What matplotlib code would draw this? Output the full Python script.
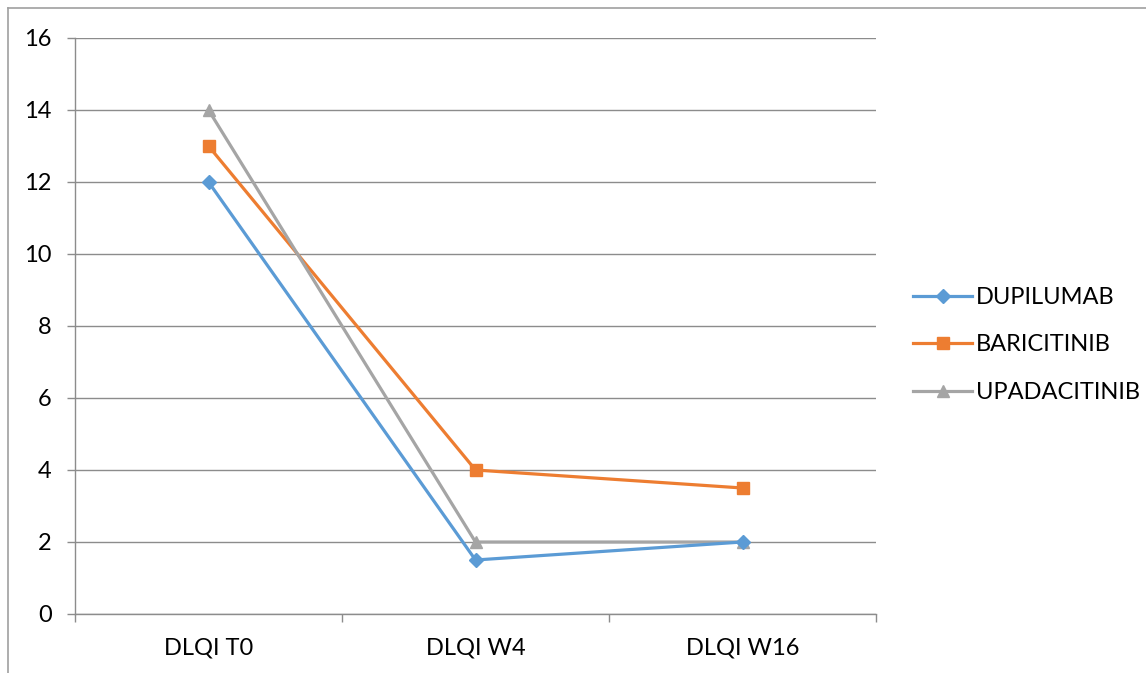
import matplotlib
matplotlib.use("Agg")
import matplotlib.pyplot as plt
from matplotlib.lines import Line2D

categories = ["DLQI T0", "DLQI W4", "DLQI W16"]
dupilumab = [12, 1.5, 2]
baricitinib = [13, 4, 3.5]
upadacitinib = [14, 2, 2]
y_ticks = [0, 2, 4, 6, 8, 10, 12, 14, 16]

plt.rcParams["font.family"] = ["Lato", "DejaVu Sans"]

W, H = 1146, 673
fig = plt.figure(figsize=(W / 100, H / 100), dpi=100)
ax = fig.add_axes([75 / W, 1 - 614 / H, (876 - 75) / W, (614 - 38) / H])

grid_c = "#8c8c8c"
x = list(range(len(categories)))

ax.plot(x, dupilumab, color="#5B9BD5", lw=2.3, marker="D", ms=7,
        label="DUPILUMAB", zorder=4)
ax.plot(x, baricitinib, color="#ED7D31", lw=2.3, marker="s", ms=9,
        label="BARICITINIB", zorder=3)
ax.plot(x, upadacitinib, color="#A5A5A5", lw=2.3, marker="^", ms=9,
        label="UPADACITINIB", zorder=3)

ax.set_xlim(-0.5, len(categories) - 0.5)
ax.set_ylim(0, 16)
ax.set_yticks(y_ticks)
ax.set_yticklabels([str(v) for v in y_ticks])
ax.set_xticks(x)
ax.set_xticklabels(categories)
ax.set_xticks([i - 0.5 for i in range(len(categories) + 1)], minor=True)

ax.grid(axis="y", color=grid_c, lw=1)
ax.set_axisbelow(True)
for side in ["top", "right"]:
    ax.spines[side].set_visible(False)
for side in ["left", "bottom"]:
    ax.spines[side].set_color(grid_c)
    ax.spines[side].set_linewidth(1)

ax.tick_params(axis="y", length=5.8, color=grid_c, width=1, labelsize=17,
               pad=11)
ax.tick_params(axis="x", which="major", length=0, labelsize=17, pad=17)
ax.tick_params(axis="x", which="minor", length=6, color=grid_c, width=1)

leg = ax.legend(loc="center left", bbox_to_anchor=(913 / W, 1 - 345 / H),
                bbox_transform=fig.transFigure, frameon=False, fontsize=17,
                handlelength=2.5, labelspacing=1.13, handletextpad=0.15,
                borderaxespad=0, borderpad=0)

# outer chart border (left and top edges)
fig.add_artist(Line2D([7.5 / W, 7.5 / W], [0, 1 - 8 / H], color="#a0a0a0",
                      lw=1.2, transform=fig.transFigure))
fig.add_artist(Line2D([7.5 / W, 1], [1 - 8 / H, 1 - 8 / H], color="#a0a0a0",
                      lw=1.2, transform=fig.transFigure))

fig.savefig("out.png", dpi=100)
